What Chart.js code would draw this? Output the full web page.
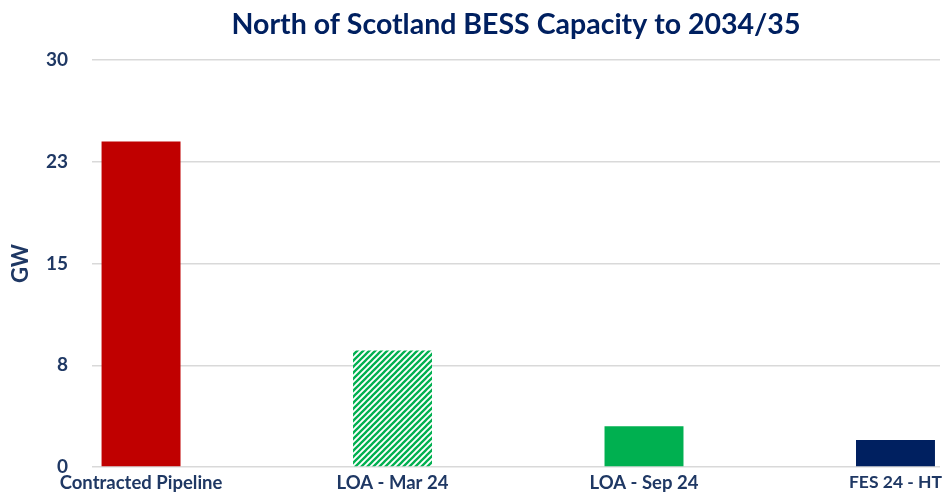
<!DOCTYPE html>
<html><head><meta charset="utf-8">
<script src="https://cdn.jsdelivr.net/npm/chart.js@4/dist/chart.umd.min.js"></script>
<style>html,body{margin:0;padding:0;background:#fff}</style>
</head><body>
<canvas id="c" width="942" height="495"></canvas>
<script>
const categories = ['Contracted Pipeline', 'LOA - Mar 24', 'LOA - Sep 24', 'FES 24 - HT'];
const capacityGW = [24.0, 8.6, 3.0, 2.0];
const yTickValues = [0, 7.5, 15, 22.5, 30];
const yTickLabels = ['0', '8', '15', '23', '30'];

function hatch(color) {
  const t = document.createElement('canvas');
  t.width = 6; t.height = 6;
  const g = t.getContext('2d');
  g.fillStyle = '#ffffff'; g.fillRect(0, 0, 6, 6);
  g.strokeStyle = color; g.lineWidth = 2.3;
  g.beginPath();
  g.moveTo(-1, 7); g.lineTo(7, -1);
  g.moveTo(-4, 4); g.lineTo(4, -4);
  g.moveTo(2, 10); g.lineTo(10, 2);
  g.stroke();
  return g.createPattern(t, 'repeat');
}
const ctx = document.getElementById('c').getContext('2d');
const colors = ['#C00000', hatch('#00B050'), '#00B050', '#002060'];
const navy = '#1F3864';
const FONT = 'Lato, "Open Sans", sans-serif';

new Chart(ctx, {
  type: 'bar',
  data: {
    datasets: [{
      data: categories.map((c, i) => ({ x: i, y: capacityGW[i] })),
      backgroundColor: colors,
      borderWidth: 0,
      categoryPercentage: 1,
      barPercentage: 0.314
    }]
  },
  options: {
    responsive: false,
    animation: false,
    devicePixelRatio: 1,
    layout: { padding: { left: 8, right: 2, top: 6, bottom: 0 } },
    plugins: {
      legend: { display: false },
      tooltip: { enabled: false },
      title: {
        display: true,
        text: 'North of Scotland BESS Capacity to 2034/35',
        fullSize: false,
        color: '#002060',
        font: { family: FONT, size: 28.5, weight: 'bold' },
        padding: { top: 2, bottom: 18 }
      }
    },
    scales: {
      x: {
        type: 'linear',
        offset: false,
        min: -0.195,
        max: 3.177,
        afterBuildTicks: s => { s.ticks = categories.map((c, i) => ({ value: i })); },
        afterFit: s => { s.paddingLeft = 0; s.paddingRight = 0; s.height = 28; },
        grid: { display: false, drawTicks: false },
        border: { display: false },
        ticks: {
          autoSkip: false,
          maxRotation: 0,
          padding: 5,
          color: navy,
          font: c => ({ family: FONT, size: c.index === categories.length - 1 ? 17.5 : 18.5, weight: 'bold' }),
          callback: v => categories[v]
        }
      },
      y: {
        min: 0,
        max: 30,
        afterBuildTicks: s => { s.ticks = yTickValues.map(v => ({ value: v })); },
        afterFit: s => { s.width = 84; s.paddingTop = 0; s.paddingBottom = 0; },
        grid: { color: '#D9D9D9', lineWidth: 1.5, drawTicks: false },
        border: { display: false },
        ticks: {
          padding: 24,
          color: navy,
          font: { family: FONT, size: 19, weight: 'bold' },
          callback: (v, i) => yTickLabels[i]
        },
        title: {
          display: true,
          text: 'GW',
          color: navy,
          font: { family: FONT, size: 22, weight: 'bold' },
          padding: 0
        }
      }
    }
  }
});
</script>
</body></html>
